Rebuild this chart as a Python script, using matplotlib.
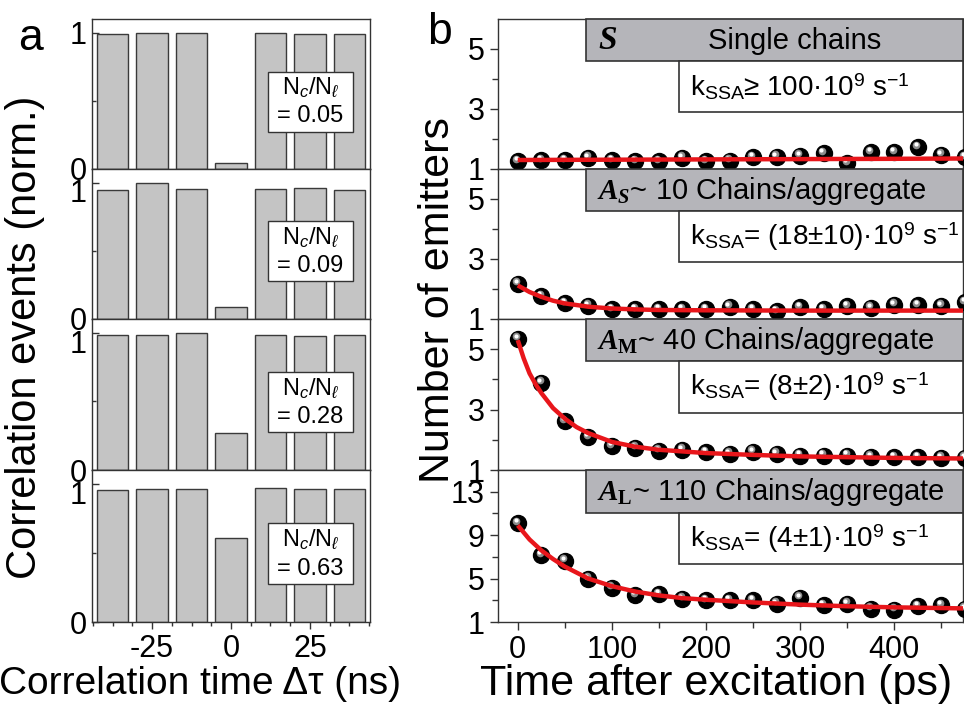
import numpy as np
import matplotlib
matplotlib.use('Agg')
import matplotlib.pyplot as plt
from matplotlib.patches import Rectangle
import matplotlib.transforms as mtransforms
from matplotlib.ticker import MultipleLocator, FixedLocator

plt.rcParams['font.family'] = ['Liberation Sans', 'DejaVu Sans']
plt.rcParams['axes.unicode_minus'] = False
plt.rcParams['mathtext.fontset'] = 'custom'
plt.rcParams['mathtext.rm'] = 'Liberation Sans'
plt.rcParams['mathtext.it'] = 'Liberation Serif:italic:bold'
plt.rcParams['mathtext.bf'] = 'Liberation Serif:bold'
plt.rcParams['mathtext.sf'] = 'Liberation Sans:italic'

# ---------------- data: panel a ----------------
bar_times = [-37.5, -25, -12.5, 0, 12.5, 25, 37.5]
bars_005 = [0.99, 0.995, 0.995, 0.046, 1.0, 0.99, 0.988]
bars_009 = [0.946, 1.0, 0.954, 0.085, 0.956, 0.961, 0.949]
bars_028 = [0.985, 0.985, 1.0, 0.27, 0.985, 0.973, 0.985]
bars_063 = [0.954, 0.966, 0.966, 0.61, 0.973, 0.961, 0.966]
ratio_labels = ['0.05', '0.09', '0.28', '0.63']

# ---------------- data: panel b ----------------
time_ps = [0, 25, 50, 75, 100, 125, 150, 175, 200, 225, 250, 275, 300, 325,
           350, 375, 400, 425, 450, 475]
emit_S = [1.26, 1.30, 1.30, 1.37, 1.30, 1.26, 1.26, 1.37, 1.26, 1.28, 1.39,
          1.41, 1.44, 1.52, 1.19, 1.56, 1.56, 1.72, 1.48, 1.39]
emit_AS = [2.18, 1.76, 1.53, 1.44, 1.33, 1.33, 1.33, 1.33, 1.33, 1.40, 1.33,
           1.26, 1.39, 1.33, 1.42, 1.37, 1.48, 1.46, 1.44, 1.56]
emit_AM = [5.35, 3.89, 2.62, 2.09, 1.78, 1.73, 1.64, 1.67, 1.59, 1.53, 1.61,
           1.53, 1.48, 1.48, 1.48, 1.44, 1.42, 1.42, 1.40, 1.40]
emit_AL = [10.1, 7.15, 6.63, 5.0, 4.17, 3.46, 3.55, 3.15, 3.0, 3.0, 3.0, 2.69,
           3.25, 2.54, 2.69, 2.23, 2.14, 2.45, 2.54, 2.23]

fit_S_t = [0, 100, 200, 300, 400, 475]
fit_S_v = [1.30, 1.31, 1.32, 1.33, 1.34, 1.35]
fit_AS_t = [0, 12.5, 25, 37.5, 50, 75, 100, 125, 150, 200, 300, 475]
fit_AS_v = [2.12, 1.90, 1.74, 1.61, 1.52, 1.41, 1.35, 1.32, 1.30, 1.29, 1.28, 1.28]
fit_AM_t = [0, 6.25, 12.5, 18.75, 25, 37.5, 50, 62.5, 75, 100, 125, 150, 200,
            250, 300, 400, 475]
fit_AM_v = [5.3, 4.7, 4.2, 3.85, 3.55, 3.05, 2.7, 2.42, 2.22, 1.93, 1.77, 1.67,
            1.56, 1.50, 1.45, 1.40, 1.38]
fit_AL_t = [0, 12.5, 25, 37.5, 50, 75, 100, 125, 150, 175, 200, 250, 300, 350,
            400, 475]
fit_AL_v = [9.9, 8.6, 7.6, 6.8, 6.1, 5.0, 4.3, 3.8, 3.45, 3.2, 3.05, 2.8, 2.6,
            2.45, 2.35, 2.25]

header_tex = [r'$\mathit{S}$',
              r'$\mathit{A}_{\mathit{S}}$~ 10 Chains/aggregate',
              r'$\mathit{A}_{\mathbf{M}}$~ 40 Chains/aggregate',
              r'$\mathit{A}_{\mathbf{L}}$~ 110 Chains/aggregate']
k_texts = [r'k$_{\mathrm{SSA}}$≥ 100·10$^{9}$ s$^{-1}$',
           r'k$_{\mathrm{SSA}}$= (18±10)·10$^{9}$ s$^{-1}$',
           r'k$_{\mathrm{SSA}}$= (8±2)·10$^{9}$ s$^{-1}$',
           r'k$_{\mathrm{SSA}}$= (4±1)·10$^{9}$ s$^{-1}$']

W, H = 964, 707
fig = plt.figure(figsize=(W / 100, H / 100), dpi=100)


def px_axes(x0, y0, x1, y1):
    return fig.add_axes([x0 / W, 1 - y1 / H, (x1 - x0) / W, (y1 - y0) / H])


edge = '#333333'
tick_fs = 22
panel_tops = [19, 169, 319, 470]
panel_bots = [169, 319, 470, 622]

# ---------------- panel a ----------------
bar_sets = [bars_005, bars_009, bars_028, bars_063]
for i, vals in enumerate(bar_sets):
    ax = px_axes(92, panel_tops[i], 370, panel_bots[i])
    ax.bar(bar_times, vals, width=10, color='#c4c4c4', edgecolor='#3a3a3a',
           linewidth=1.0, zorder=2)
    ax.set_xlim(-44, 44)
    ax.set_ylim(0, 1.1)
    ax.xaxis.set_major_locator(FixedLocator([-25, 0, 25]))
    ax.xaxis.set_minor_locator(MultipleLocator(6.25))
    if i == 0:
        ax.set_yticks([0, 1])
    else:
        # the "1" label sits a little below its tick, clear of the "0" above
        ax.set_yticks([0, 1], ['0', ''])
        ax.annotate('1', xy=(0, 1), xycoords=('axes fraction', 'data'),
                    xytext=(-4, -8.5), textcoords='offset points', ha='right',
                    va='center', fontsize=tick_fs)
    ax.yaxis.set_minor_locator(FixedLocator([0.5]))
    ax.tick_params(axis='x', which='both', direction='out', length=5,
                   width=1, colors=edge, labelsize=tick_fs, labelcolor='black')
    ax.tick_params(axis='x', which='minor', length=3)
    ax.tick_params(axis='y', which='both', direction='in', length=5,
                   width=1, colors=edge, labelsize=tick_fs, labelcolor='black',
                   pad=4)
    ax.tick_params(axis='y', which='minor', length=3)
    if i < 3:
        ax.tick_params(axis='x', labelbottom=False)
    for s in ax.spines.values():
        s.set_color(edge)
        s.set_linewidth(1.0)
    # ratio box
    ax.add_patch(Rectangle((0.633, 0.25), 0.306, 0.40, transform=ax.transAxes,
                           facecolor='white', edgecolor=edge, linewidth=1.0,
                           zorder=5))
    ax.text(0.786, 0.545, r'N$_{\mathsf{c}}$/N$_{\mathsf{\ell}}$',
            transform=ax.transAxes, ha='center', va='center', fontsize=17,
            zorder=6)
    ax.text(0.786, 0.35, '= ' + ratio_labels[i], transform=ax.transAxes,
            ha='center', va='center', fontsize=17, zorder=6)

fig.text(25 / W, 1 - 337 / H, 'Correlation events (norm.)', rotation=90,
         ha='center', va='center', fontsize=30)
fig.text(200 / W, 1 - 684 / H, 'Correlation time Δτ (ns)', ha='center',
         va='center', fontsize=28)
fig.text(30 / W, 1 - 38 / H, 'a', ha='center', va='center', fontsize=32)

# ---------------- panel b ----------------
emit_sets = [emit_S, emit_AS, emit_AM, emit_AL]
fit_sets = [(fit_S_t, fit_S_v), (fit_AS_t, fit_AS_v), (fit_AM_t, fit_AM_v),
            (fit_AL_t, fit_AL_v)]
ylims = [(1, 6), (1, 6), (1, 6), (1, 15)]
for i, vals in enumerate(emit_sets):
    ax = px_axes(498, panel_tops[i], 963, panel_bots[i])
    ax.set_xlim(-21, 473)
    ax.set_ylim(*ylims[i])
    # spheres
    ax.plot(time_ps, vals, 'o', ms=11.5, mfc='black', mec='black', zorder=3)
    tr1 = mtransforms.offset_copy(ax.transData, fig=fig, x=-1.2, y=1.8,
                                  units='points')
    ax.plot(time_ps, vals, 'o', ms=5.5, mfc='#8c8c8c', mec='none', zorder=4,
            transform=tr1)
    tr2 = mtransforms.offset_copy(ax.transData, fig=fig, x=-1.6, y=2.2,
                                  units='points')
    ax.plot(time_ps, vals, 'o', ms=3, mfc='white', mec='none', zorder=4,
            transform=tr2)
    ft, fv = fit_sets[i]
    ax.plot(ft, fv, '-', color='#e8161b', lw=3.2, zorder=5,
            solid_capstyle='butt')
    ax.xaxis.set_major_locator(MultipleLocator(100))
    ax.xaxis.set_minor_locator(MultipleLocator(50))
    if i < 3:
        ax.yaxis.set_major_locator(FixedLocator([1, 3, 5]))
        ax.yaxis.set_minor_locator(FixedLocator([2, 4]))
    else:
        ax.yaxis.set_major_locator(FixedLocator([1, 5, 9, 13]))
        ax.yaxis.set_minor_locator(FixedLocator([3, 7, 11]))
    ax.tick_params(axis='both', which='both', direction='out', width=1,
                   colors=edge, labelsize=tick_fs, labelcolor='black')
    ax.tick_params(axis='both', which='major', length=6)
    ax.tick_params(axis='both', which='minor', length=4)
    if i < 3:
        ax.tick_params(axis='x', labelbottom=False)
    for s in ax.spines.values():
        s.set_color(edge)
        s.set_linewidth(1.0)
    # header box
    ax.add_patch(Rectangle((0.19, 0.72), 0.81, 0.28, transform=ax.transAxes,
                           facecolor='#b5b5ba', edgecolor=edge, linewidth=1.2,
                           zorder=6, clip_on=False))
    ax.add_patch(Rectangle((0.39, 0.38), 0.61, 0.34, transform=ax.transAxes,
                           facecolor='white', edgecolor=edge, linewidth=1.2,
                           zorder=6, clip_on=False))
    if i == 0:
        ax.text(0.215, 0.855, header_tex[0], transform=ax.transAxes,
                ha='left', va='center', fontsize=24, zorder=7)
        ax.text(0.637, 0.855, 'Single chains', transform=ax.transAxes,
                ha='center', va='center', fontsize=21, zorder=7)
    else:
        ax.text(0.212, 0.855, header_tex[i], transform=ax.transAxes,
                ha='left', va='center', fontsize=21, zorder=7)
    ax.text(0.413, 0.55, k_texts[i], transform=ax.transAxes, ha='left',
            va='center', fontsize=20, zorder=7)

fig.text(438 / W, 1 - 300 / H, 'Number of emitters', rotation=90,
         ha='center', va='center', fontsize=31)
fig.text(716 / W, 1 - 684 / H, 'Time after excitation (ps)', ha='center',
         va='center', fontsize=31)
fig.text(440 / W, 1 - 32 / H, 'b', ha='center', va='center', fontsize=32)

fig.savefig('out.png', dpi=100)
